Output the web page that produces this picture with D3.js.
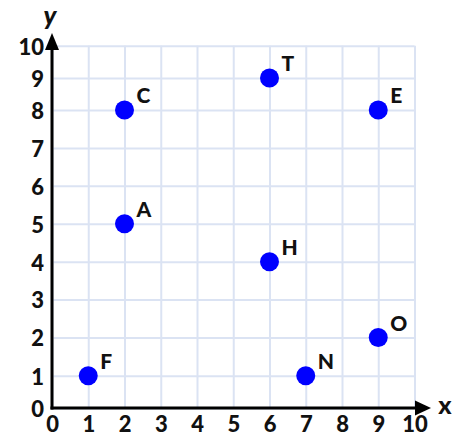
<!DOCTYPE html>
<html>
<head>
<meta charset="utf-8">
<script src="https://cdn.jsdelivr.net/npm/d3@7"></script>
<style>
  body { margin: 0; background: #fff; }
  text { font-family: Lato, "Open Sans", sans-serif; font-weight: 900; fill: #111; }
</style>
</head>
<body>
<div id="chart"></div>
<script>
// points
var pointNames = ["C", "T", "E", "A", "H", "O", "F", "N"];
var pointX = [2, 6, 9, 2, 6, 9, 1, 7];
var pointY = [8, 9, 8, 5, 4, 2, 1, 1];
var xTicks = [0, 1, 2, 3, 4, 5, 6, 7, 8, 9, 10];
var yTicks = [0, 1, 2, 3, 4, 5, 6, 7, 8, 9, 10];

var svgWidth = 459, svgHeight = 440;

var svg = d3.select("#chart").append("svg")
    .attr("width", svgWidth)
    .attr("height", svgHeight);

var x = d3.scaleLinear()
    .domain([0, 10])
    .range([52, 414.5]);

// the source picture is squashed near the ends of the y axis
var y = d3.scaleLinear()
    .domain([0, 1, 2, 8, 9, 10])
    .range([408, 375.7, 337.5, 110, 78, 45.7]);

// grid
svg.append("g")
    .attr("class", "grid")
    .attr("transform", "translate(0," + y(0) + ")")
    .call(d3.axisBottom(x).tickValues(xTicks).tickSize(-(y(0) - y(10))).tickFormat(""));
svg.append("g")
    .attr("class", "grid")
    .attr("transform", "translate(" + x(0) + ",0)")
    .call(d3.axisLeft(y).tickValues(yTicks).tickSize(-(x(10) - x(0))).tickFormat(""));
svg.selectAll(".grid .domain").remove();
svg.selectAll(".grid line")
    .attr("stroke", "#dbe3f3")
    .attr("stroke-width", 2);

// tick labels
var xAxis = svg.append("g")
    .attr("transform", "translate(0," + y(0) + ")")
    .call(d3.axisBottom(x).tickValues(xTicks).tickSize(0).tickPadding(8));
var yAxis = svg.append("g")
    .attr("transform", "translate(" + x(0) + ",0)")
    .call(d3.axisLeft(y).tickValues(yTicks).tickSize(0).tickPadding(8));
xAxis.select(".domain").remove();
yAxis.select(".domain").remove();
svg.selectAll(".tick text")
    .attr("font-family", "Lato, 'Open Sans', sans-serif")
    .attr("font-weight", 900)
    .attr("font-size", 22)
    .attr("fill", "#111");
xAxis.selectAll(".tick text").attr("dy", "0.72em");
yAxis.selectAll(".tick text").attr("dy", "0.38em");

// axis lines with arrows
svg.append("line")
    .attr("x1", x(0)).attr("y1", y(0) + 1.5)
    .attr("x2", x(0)).attr("y2", 46)
    .attr("stroke", "#000").attr("stroke-width", 3);
svg.append("path")
    .attr("d", "M" + (x(0) - 7) + ",50L" + x(0) + ",33L" + (x(0) + 7) + ",50Z")
    .attr("fill", "#000");
svg.append("line")
    .attr("x1", x(0) - 1.5).attr("y1", y(0))
    .attr("x2", 417).attr("y2", y(0))
    .attr("stroke", "#000").attr("stroke-width", 3);
svg.append("path")
    .attr("d", "M415," + (y(0) - 7.5) + "L431," + y(0) + "L415," + (y(0) + 7.5) + "Z")
    .attr("fill", "#000");

svg.append("text")
    .attr("x", 50).attr("y", 25)
    .attr("text-anchor", "middle")
    .attr("font-size", 26)
    .attr("font-style", "italic")
    .text("y");
svg.append("text")
    .attr("x", 445).attr("y", 414)
    .attr("text-anchor", "middle")
    .attr("font-size", 25)
    .text("x");

// points
var points = pointNames.map(function(d, i) {
    return { name: d, x: pointX[i], y: pointY[i] };
});

svg.selectAll(".dot")
    .data(points)
    .enter().append("circle")
    .attr("class", "dot")
    .attr("cx", function(d) { return x(d.x); })
    .attr("cy", function(d) { return y(d.y); })
    .attr("r", 9.5)
    .attr("fill", "#0000ff");

svg.selectAll(".label")
    .data(points)
    .enter().append("text")
    .attr("class", "label")
    .attr("x", function(d) { return x(d.x) + 12; })
    .attr("y", function(d) { return y(d.y) - 7; })
    .attr("font-size", 21)
    .text(function(d) { return d.name; });
</script>
</body>
</html>
